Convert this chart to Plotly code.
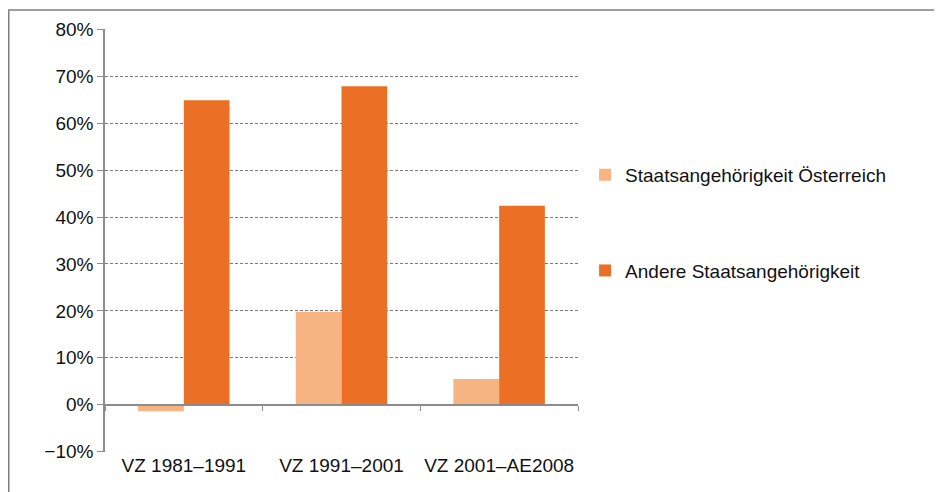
import plotly.graph_objects as go

categories = ["VZ 1981\u20131991", "VZ 1991\u20132001", "VZ 2001\u2013AE2008"]
oesterreich = [-1.4, 19.8, 5.5]
andere = [64.9, 67.9, 42.4]

COLORS = {
    "light": "#F8B383",
    "dark": "#EB7026",
    "grid": "#7A7A7A",
    "axis": "#8C8C8C",
    "text": "#111111",
}

fig = go.Figure()
fig.add_trace(go.Bar(
    x=categories, y=oesterreich, name="Staatsangehörigkeit Österreich",
    marker=dict(color=COLORS["light"], line=dict(width=0)), legendgroup="a",
))
fig.add_trace(go.Bar(
    x=categories, y=andere, name="Andere Staatsangehörigkeit",
    marker=dict(color=COLORS["dark"], line=dict(width=0)), legendgroup="b",
))
# invisible helper trace so the category axis at 0% gets drawn
fig.add_trace(go.Scatter(
    x=categories, y=[0, 0, 0], xaxis="x2", mode="markers",
    marker=dict(opacity=0), showlegend=False, hoverinfo="skip",
))

# the page has an 8px body margin, so the figure is shrunk to fit the window
fig.update_layout(
    width=934, height=484,
    paper_bgcolor="white", plot_bgcolor="white",
    font=dict(family="Liberation Sans, Arial, sans-serif", size=19, color=COLORS["text"]),
    margin=dict(l=97, r=364, t=21, b=40),
    barmode="group", bargap=0.42, bargroupgap=0,
    showlegend=True,
    legend=dict(
        x=1.015, y=0.70, xanchor="left", yanchor="top",
        bgcolor="rgba(0,0,0,0)", tracegroupgap=68,
        font=dict(size=19), itemwidth=30,
    ),
    xaxis=dict(
        showgrid=False, showline=False, ticks="", zeroline=False,
        tickfont=dict(size=19),
    ),
    xaxis2=dict(
        overlaying="x", matches="x", anchor="free", position=10 / 90,
        showline=True, linecolor=COLORS["axis"], linewidth=1.5,
        ticks="outside", ticklen=5, tickcolor=COLORS["axis"],
        tickson="boundaries", showticklabels=False, showgrid=False,
    ),
    yaxis=dict(
        range=[-10.08, 80.08], dtick=10, ticksuffix="%",
        showgrid=True, gridcolor=COLORS["grid"], griddash="3px,2px", gridwidth=1,
        showline=True, linecolor=COLORS["axis"], linewidth=1.5,
        ticks="outside", ticklen=6, tickcolor=COLORS["axis"],
        zeroline=False, tickfont=dict(size=19),
    ),
    # frame around the chart: left and top edges only (the rest is cut off)
    shapes=[dict(
        type="path", xref="paper", yref="paper",
        path="M -0.2035,-0.14 L -0.2035,1.045 L 1.9,1.045",
        line=dict(color="#7F7F7F", width=1.5),
        layer="below",
    )],
)

fig.write_html("out.html")
